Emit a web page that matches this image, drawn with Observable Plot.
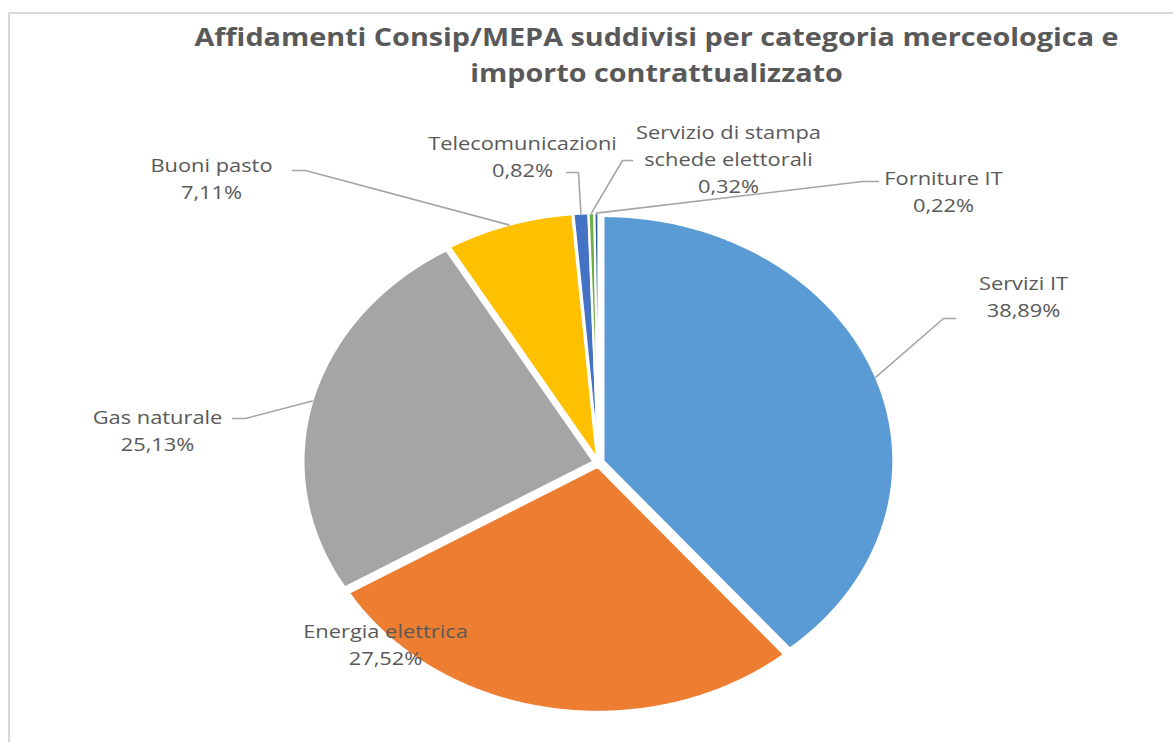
<!DOCTYPE html>
<html>
<head>
<meta charset="utf-8">
<script src="https://cdn.jsdelivr.net/npm/d3@7"></script>
<script src="https://cdn.jsdelivr.net/npm/@observablehq/plot@0.6"></script>
<style>
  html, body { margin: 0; padding: 0; background: #fff; }
  #chart { width: 1173px; height: 742px; }
</style>
</head>
<body>
<div id="chart"></div>
<script>
// ---- data ----
const categories = ["Servizi IT", "Energia elettrica", "Gas naturale", "Buoni pasto", "Telecomunicazioni", "Servizio di stampa schede elettorali", "Forniture IT"];
const shares = [38.89, 27.52, 25.13, 7.11, 0.82, 0.32, 0.22];
const titleLines = ["Affidamenti Consip/MEPA suddivisi per categoria merceologica e", "importo contrattualizzato"];

// ---- style / layout (pixels) ----
const colors = ["#5B9BD5", "#ED7D31", "#A5A5A5", "#FFC000", "#4472C4", "#70AD47", "#255E91"];
const W = 1173, H = 742;
const CX = 598, CY = 462, RX = 290, RY = 245;
const EXPLODE = 0.018;
const TEXT_STRETCH = 1.15;
const labelBreaks = {"Servizio di stampa schede elettorali": "Servizio di stampa\nschede elettorali"};
const labelLayout = {
  "Servizi IT":        {lx: 1023, ly: 294, leader: [[943, 318], [955, 318]]},
  "Energia elettrica": {lx: 385,  ly: 642, leader: null},
  "Gas naturale":      {lx: 157,  ly: 428, leader: [[245, 418], [232, 418]]},
  "Buoni pasto":       {lx: 211,  ly: 176, leader: [[305, 170], [292, 170]]},
  "Telecomunicazioni": {lx: 522,  ly: 154, leader: [[578, 172], [566, 172]]},
  "Servizio di stampa schede elettorali": {lx: 728, ly: 157, leader: [[622, 160], [632, 160]]},
  "Forniture IT":      {lx: 943,  ly: 189, leader: [[862, 181], [878, 181]]}
};
const px2x = p => (p - CX) / RX;
const py2y = p => (CY - p) / RY;

// ---- build geometry from data ----
const total = d3.sum(shares);
const fmt = v => d3.format(".2f")(v).replace(".", ",") + "%";
let acc = 0;
const slicePts = [], leaderPts = [], labels = [];
categories.forEach((cat, i) => {
  const a0 = acc / total * 2 * Math.PI;
  acc += shares[i];
  const a1 = acc / total * 2 * Math.PI;
  const am = (a0 + a1) / 2;
  const ox = EXPLODE * Math.sin(am), oy = EXPLODE * Math.cos(am);
  slicePts.push({cat, x: ox, y: oy});
  const n = Math.max(2, Math.ceil((a1 - a0) / (Math.PI / 360)));
  for (let k = 0; k <= n; k++) {
    const a = a0 + (a1 - a0) * k / n;
    slicePts.push({cat, x: ox + Math.sin(a), y: oy + Math.cos(a)});
  }
  const L = labelLayout[cat];
  if (L.leader) {
    leaderPts.push({cat, x: ox + Math.sin(am), y: oy + Math.cos(am)});
    L.leader.forEach(([px, py]) => leaderPts.push({cat, x: px2x(px), y: py2y(py)}));
  }
  labels.push({cat, x: px2x(L.lx), y: py2y(L.ly), text: (labelBreaks[cat] || cat) + "\n" + fmt(shares[i])});
});
const titles = titleLines.map((t, i) => ({text: t, x: px2x(656), y: py2y(37 + i * 36)}));

const chart = Plot.plot({
  width: W, height: H,
  margin: 0,
  x: {domain: [px2x(0), px2x(W)], range: [0, W], axis: null},
  y: {domain: [py2y(H), py2y(0)], range: [H, 0], axis: null},
  color: {domain: categories, range: colors},
  style: {fontFamily: "'Open Sans', sans-serif", background: "#fff"},
  marks: [
    Plot.ruleY([py2y(12.5)], {x1: px2x(8), x2: px2x(W), stroke: "#d9d9d9", strokeWidth: 2}),
    Plot.ruleX([px2x(8.5)], {y1: py2y(12), y2: py2y(H), stroke: "#d9d9d9", strokeWidth: 2}),
    Plot.line(slicePts, {x: "x", y: "y", z: "cat", fill: "cat", stroke: "white", strokeWidth: 2.2, curve: "linear-closed"}),
    Plot.line(leaderPts, {x: "x", y: "y", z: "cat", stroke: "#a5a5a5", strokeWidth: 1.6}),
    Plot.text(labels, {x: "x", y: "y", text: "text", fill: "#595959", fontSize: 19, lineHeight: 1.42}),
    Plot.text(titles, {x: "x", y: "y", text: "text", fill: "#595959", fontSize: 25, fontWeight: "bold"})
  ]
});

// stretch text horizontally (the reference image is widened)
d3.select(chart).selectAll("text").each(function() {
  const el = d3.select(this);
  let tr = el.attr("transform");
  if (!tr) {
    const x = +el.attr("x") || 0, y = +el.attr("y") || 0;
    el.attr("x", null).attr("y", null);
    tr = `translate(${x},${y})`;
  }
  el.attr("transform", `${tr} scale(${TEXT_STRETCH},1)`);
});

document.getElementById("chart").appendChild(chart);
</script>
</body>
</html>
